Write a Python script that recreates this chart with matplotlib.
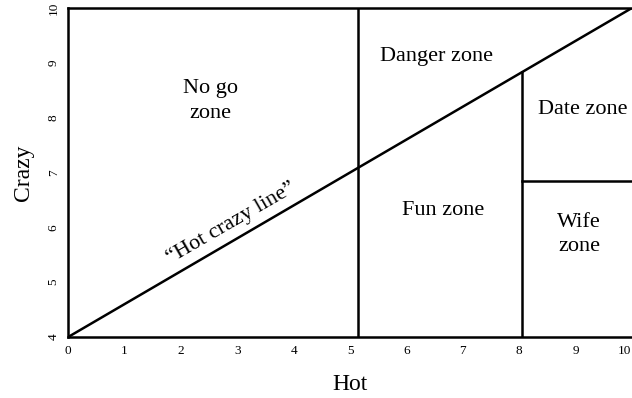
import matplotlib
matplotlib.use("Agg")
import matplotlib.pyplot as plt
import matplotlib.transforms as mtransforms

plt.rcParams['font.family'] = ['Liberation Serif', 'DejaVu Serif']

# hot crazy matrix
diag_x = [0, 10]
diag_y = [4, 10]
split_hot = 5.15
date_hot = 8.05
wife_crazy = 6.85
x_ticks = list(range(0, 11))
y_ticks = list(range(4, 11))

zone_names = ["No go\nzone", "Danger zone", "Date zone", "Fun zone", "Wife\nzone"]
zone_x = [2.52, 6.54, 9.13, 6.65, 9.06]
zone_y = [8.3, 9.11, 8.14, 6.3, 5.87]

fig = plt.figure(figsize=(6.32, 3.98), dpi=100)
ax = fig.add_axes([0.1076, 0.153, 0.8924, 0.827])

lw = 1.8
ax.plot(diag_x, diag_y, color='black', lw=lw, solid_capstyle='butt')
ax.plot([split_hot, split_hot], [4, 10], color='black', lw=lw)
date_top = diag_y[0] + (diag_y[1] - diag_y[0]) / (diag_x[1] - diag_x[0]) * date_hot
ax.plot([date_hot, date_hot], [4, date_top], color='black', lw=lw)
ax.plot([date_hot, 10.5], [wife_crazy, wife_crazy], color='black', lw=lw)

for name, zx, zy in zip(zone_names, zone_x, zone_y):
    ax.text(zx, zy, name, ha='center', va='center', fontsize=16, linespacing=1.4)

ax.text(2.9, 6.08, "\u201cHot crazy line\u201d", ha='center', va='center',
        fontsize=16, rotation=30)

ax.set_xlim(0, 10)
ax.set_ylim(4, 10)
ax.set_xticks(x_ticks)
ax.set_yticks(y_ticks)
ax.tick_params(length=0, labelsize=9.5, pad=6)
for lab in ax.get_yticklabels():
    lab.set_rotation(90)
    lab.set_va('center')

# the last label sits at the figure edge, nudge it in
last = ax.get_xticklabels()[-1]
last.set_transform(last.get_transform() +
                   mtransforms.ScaledTranslation(-8 / 100, 0, fig.dpi_scale_trans))

for side in ['left', 'bottom', 'top']:
    ax.spines[side].set_linewidth(lw)
ax.spines['right'].set_visible(False)

ax.set_xlabel("Hot", fontsize=17, labelpad=12)
ax.set_ylabel("Crazy", fontsize=17, labelpad=10)

fig.savefig("out.png", dpi=100)
